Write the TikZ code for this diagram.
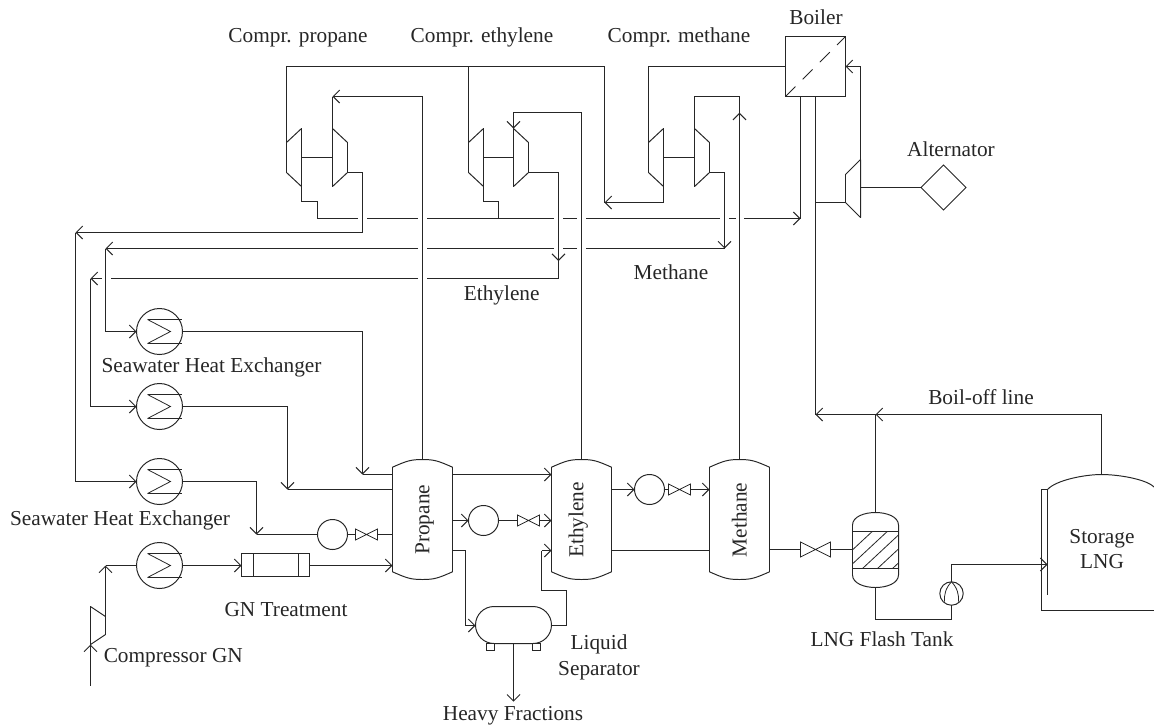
\documentclass[tikz,border=0pt]{standalone}
\usepackage{fontspec}
\setmainfont{Liberation Serif}
\usetikzlibrary{arrows.meta,calc,shapes.geometric}
\definecolor{ink}{gray}{0.15}
\tikzset{
  arr/.style={-{Straight Barb[length=6.5pt,width=13pt,line width=1pt]}},
  ghost/.style={rectangle,inner sep=0pt,outer sep=0pt},
  circA/.style={circle,draw,inner sep=0pt,outer sep=0pt,minimum size=46pt},
  circB/.style={circle,draw,inner sep=0pt,outer sep=0pt,minimum size=30pt},
  lbl/.style={anchor=base,inner sep=0pt,text=ink,font=\fontsize{21.3}{24}\selectfont},
  thinl/.style={line width=0.8pt}
}
% narrow side west
\newcommand{\compW}[6]{\node[ghost,minimum width=#4pt,minimum height=#6*2pt] (#1) at (#2,#3) {};
  \coordinate (#1-st) at ($(#1.west)+(0,-#5)$); \coordinate (#1-sb) at ($(#1.west)+(0,#5)$);
  \coordinate (#1-wt) at ($(#1.east)+(0,-#6)$); \coordinate (#1-wb) at ($(#1.east)+(0,#6)$);
  \draw[line join=round] (#1-st)--(#1-wt)--(#1-wb)--(#1-sb)--cycle;}
% narrow side east
\newcommand{\compE}[6]{\node[ghost,minimum width=#4pt,minimum height=#6*2pt] (#1) at (#2,#3) {};
  \coordinate (#1-st) at ($(#1.east)+(0,-#5)$); \coordinate (#1-sb) at ($(#1.east)+(0,#5)$);
  \coordinate (#1-wt) at ($(#1.west)+(0,-#6)$); \coordinate (#1-wb) at ($(#1.west)+(0,#6)$);
  \draw[line join=round] (#1-st)--(#1-wt)--(#1-wb)--(#1-sb)--cycle;}
\newcommand{\hxr}[3]{\node[circA] (#1) at (#2,#3) {};
  \draw[thinl] ($(#1.center)+(-12,-12)$) -- ($(#1.center)+(22.6,-12)$);
  \draw[thinl] ($(#1.center)+(-12,12)$) -- ($(#1.center)+(22.6,12)$);
  \draw[thinl] ($(#1.center)+(-12,-12)$) -- ($(#1.center)+(11,0)$) -- ($(#1.center)+(-12,12)$);}
\newcommand{\valv}[5]{\node[ghost,minimum width=#4pt,minimum height=#5pt] (#1) at (#2,#3) {};
  \draw[thinl] (#1.north west)--(#1.south east)--(#1.north east)--(#1.south west)--cycle;}
\newcommand{\tankv}[2]{\node[ghost,minimum width=60pt,minimum height=120pt] (#1) at (#2,519.5) {};
  \draw ($(#1.north west)+(0,7.7)$) .. controls ($(#1.north west)+(14,1.5)$) and ($(#1.north)+(-12,0)$) .. (#1.north)
     .. controls ($(#1.north)+(12,0)$) and ($(#1.north east)+(-14,1.5)$) .. ($(#1.north east)+(0,7.7)$)
     -- ($(#1.south east)+(0,-7.7)$)
     .. controls ($(#1.south east)+(-14,-1.5)$) and ($(#1.south)+(12,0)$) .. (#1.south)
     .. controls ($(#1.south)+(-12,0)$) and ($(#1.south west)+(14,-1.5)$) .. ($(#1.south west)+(0,-7.7)$) -- cycle;}
\begin{document}
\begin{tikzpicture}[x=1pt,y=-1pt,line width=0.98pt,color=ink]
\useasboundingbox (0,0) rectangle (1154,724);
% row and junction coordinates
\coordinate (r97) at (0,96.5); \coordinate (r112) at (0,112.5); \coordinate (r550) at (0,550.5);
\coordinate (k1) at (317.5,201.5); \coordinate (k1b) at (498.5,201.5);
\coordinate (k2) at (362.5,232.5); \coordinate (j7) at (75.5,232.5);
\coordinate (j604) at (604.5,202.5); \coordinate (a800) at (800.5,218.5);
\coordinate (j8) at (105.5,248.5); \coordinate (j9) at (90.5,278.5);
\coordinate (j10) at (724.5,248.5); \coordinate (j11) at (558.5,261); \coordinate (j12) at (558.5,278.5);
\coordinate (j13) at (739.5,112.7);
\coordinate (j1) at (362.5,474.5); \coordinate (j2) at (287.5,489.5); \coordinate (j3) at (256.5,534.5);
\coordinate (j5) at (465.5,625.5); \coordinate (j6) at (105.5,565.5);
\coordinate (s1) at (566.5,590.5); \coordinate (s2) at (541.5,550.5);
\coordinate (hf) at (513.5,701.7); \coordinate (gin) at (90.5,685.7);
\coordinate (j815) at (815.5,414.5); \coordinate (j876) at (875.5,414.5);
\coordinate (f1) at (951.5,619.5); \coordinate (j15) at (1047.5,564.5); \coordinate (stA) at (1101.5,474.5);
% equipment
\node[ghost,draw,minimum width=60pt,minimum height=60pt] (boiler) at (815.5,66.5) {};
\draw[dash pattern=on 14pt off 10.3pt] (boiler.south west) -- (boiler.north east);
\coordinate (b800) at ($(boiler.south)+(-15,0)$);
\compW{c1L}{294}{157.5}{15}{15}{29}
\compE{c1R}{340}{157.5}{15}{15}{29}
\compW{c2L}{476}{157.5}{15}{15}{29}
\compE{c2R}{521}{157.5}{15}{15}{29}
\compW{c3L}{656}{157.5}{15}{15}{29}
\compE{c3R}{702}{157.5}{15}{15}{29}
\compW{tb}{853}{188.5}{15}{14}{29}
\compE{gc}{98}{625.5}{15}{9}{19}
\node[diamond,draw,inner sep=0pt,outer sep=0pt,minimum width=45pt,minimum height=45pt] (alt) at (943.5,187.5) {};
\hxr{hx1}{159.5}{331.5}
\hxr{hx2}{159.5}{406.5}
\hxr{hx3}{159.5}{481.5}
\hxr{hx4}{159.5}{565.5}
\node[ghost,draw,minimum width=68pt,minimum height=23pt] (gn) at (275.5,565) {};
\draw ($(gn.north west)+(12,0)$) -- ($(gn.south west)+(12,0)$);
\draw ($(gn.north east)+(-11,0)$) -- ($(gn.south east)+(-11,0)$);
\tankv{propane}{422.5}
\tankv{ethylene}{581.5}
\tankv{methane}{739.5}
\node[circB] (pc1) at (332.5,534.5) {};
\valv{v1}{366.5}{534.5}{22}{11}
\node[circB] (pc2) at (483.5,520.5) {};
\valv{v2}{528.5}{520.5}{22}{11}
\node[circB] (pc3) at (649.5,489.5) {};
\valv{v3}{679.5}{489.5}{22}{11}
\valv{v4}{815.5}{549.5}{30}{15}
\node[ghost,draw,rounded corners=18.5pt,minimum width=76pt,minimum height=37pt] (sep) at (513.5,625) {};
\draw (486.5,643.5) rectangle (494.5,650.5) (532.5,643.5) rectangle (540.5,650.5);
% flash tank
\node[ghost,minimum width=46pt,minimum height=75pt] (ft) at (875.5,550) {};
\draw ($(ft.north west)+(0,12.7)$) .. controls ($(ft.north west)+(0,4)$) and ($(ft.north)+(-11,0)$) .. (ft.north)
   .. controls ($(ft.north)+(11,0)$) and ($(ft.north east)+(0,4)$) .. ($(ft.north east)+(0,12.7)$)
   -- ($(ft.south east)+(0,-12.7)$)
   .. controls ($(ft.south east)+(0,-4)$) and ($(ft.south)+(11,0)$) .. (ft.south)
   .. controls ($(ft.south)+(-11,0)$) and ($(ft.south west)+(0,-4)$) .. ($(ft.south west)+(0,-12.7)$) -- cycle;
\node[ghost,minimum width=46pt,minimum height=37pt] (hatch) at (875.5,550) {};
\begin{scope}
  \clip (hatch.north west) rectangle (hatch.south east);
  \foreach \d in {0,15,...,90} \draw[thinl] ($(hatch.south west)+(\d-20,0)$) -- ++(44,-41);
\end{scope}
\draw[line width=1.4pt] (hatch.north west) -- (hatch.north east) (hatch.south west) -- (hatch.south east);
% pump
\node[circle,draw,inner sep=0pt,outer sep=0pt,minimum size=23.4pt] (pump) at (951.5,593.5) {};
\draw[thinl] (pump.north) .. controls (945.5,588) and (944,595) .. (944.5,601.5);
\draw[thinl] (pump.north) .. controls (957.5,588) and (959,595) .. (958.5,601.5);
% storage
\draw (1047.5,489.5) -- (1047.5,595);
\draw (1047.5,489.5) .. controls (1056,480) and (1085,474.5) .. (stA) .. controls (1118,474.5) and (1146,479) .. (1154,487);
\draw (1047.5,489.5) -- (1041.5,489.5) -- (1041.5,610.5) -- (1154,610.5);
% connectors: refrigeration compressors
\draw (c1L.east) -- (c1R.west);
\draw (c2L.east) -- (c2R.west);
\draw (c3L.east) -- (c3R.west);
\draw (tb.east |- alt.west) -- (alt.west);
\draw[arr] (c3L-wb) |- (j604);
\draw (j604) |- (c1L-st |- boiler.west) -- (c1L-st);
\draw (c2L-st) -- (c2L-st |- boiler.west);
\draw (c3L-st) |- (boiler.west);
\draw[arr] (tb-wt) |- (boiler.east);
\draw (tb-sb) -- (tb-sb -| boiler.south);
\draw (boiler.south) -- (j815);
\draw (b800) -- (a800);
\draw (c1L-wb) |- (k1) -- (k1 |- a800);
\draw (c2L-wb) |- (k1b) -- (k1b |- a800);
\draw[arr] (propane.north) |- (c1R-wt |- r97);
\draw (c1R-wt |- r97) -- (c1R-wt);
\draw[arr] (ethylene.north) |- (c2R-wt |- r112) -- (c2R-wt);
\draw[arr] (methane.north) -- (j13);
\draw (j13) |- (c3R-wt |- r97) -- (c3R-wt);
\draw (c1R-sb) -| (k2);
\draw[arr] (k2) -- (j7);
\draw[arr] (j7) |- (hx3.west);
\draw[arr] (c3R-sb) -| (j10);
\draw[arr] (c2R-sb) -| (j11);
\draw (j11) -- (j12);
% broken horizontal mains
\foreach \a/\b in {317.5/358,367/418,427/554,563/577,586/720,729/735.5} \draw (\a,218.5) -- (\b,218.5);
\draw[arr] (744,218.5) -- (a800);
\foreach \a/\b in {724.5/586,577/563,554/427} \draw (\a,248.5) -- (\b,248.5);
\draw[arr] (418,248.5) -- (j8);
\draw[arr] (j8) |- (hx1.west);
\draw (j12) -- (427,278.5);
\draw (418,278.5) -- (110.5,278.5);
\draw[arr] (101.5,278.5) -- (j9);
\draw[arr] (j9) |- (hx2.west);
% heat exchangers to tanks
\draw[arr] (hx1.east) -| (j1);
\draw (j1) -- (propane.west |- j1);
\draw[arr] (hx2.east) -| (j2);
\draw (j2) -- (propane.west |- j2);
\draw[arr] (hx3.east) -| (j3);
\draw (j3) -- (pc1.west);
\draw (pc1.east) -- (v1.west);
\draw (v1.east) -- (propane.west |- v1.east);
\draw[arr] (gin) -- (gc-wb);
\draw[arr] (gc-st) -- (j6);
\draw (j6) -- (hx4.west);
\draw[arr] (hx4.east) -- (gn.west |- hx4.east);
\draw[arr] (gn.east |- hx4.east) -- (propane.west |- hx4.east);
% tank to tank
\draw[arr] (propane.east |- j1) -- (ethylene.west |- j1);
\draw[arr] (propane.east |- pc2.west) -- (pc2.west);
\draw (pc2.east) -- (v2.west);
\draw[arr] (v2.east) -- (ethylene.west |- v2.east);
\draw[arr] (ethylene.east |- pc3.west) -- (pc3.west);
\draw (pc3.east) -- (v3.west);
\draw[arr] (v3.east) -- (methane.west |- v3.east);
\draw (ethylene.east |- r550) -- (methane.west |- r550);
\draw (methane.east |- v4.west) -- (v4.west);
\draw (v4.east) -- (ft.west |- v4.east);
\draw (propane.east |- r550) -| (j5);
\draw[arr] (j5) -- (sep.west |- j5);
\draw (sep.east |- j5) -| (s1) -| (s2);
\draw[arr] (s2) -- (ethylene.west |- s2);
\draw[arr] (sep.south) -- (hf);
% LNG side
\draw (ft.south) |- (f1) -- (pump.south);
\draw[arr] (pump.north) |- (j15);
\draw (ft.north) -- (j876);
\draw[arr] (stA) |- (j876);
\draw[arr] (j876) -- (j815);
% labels
\node[lbl] (t1) at (298,42.7) {Compr. propane};
\node[lbl] (t2) at (482,42.7) {Compr. ethylene};
\node[lbl] (t3) at (679,42.7) {Compr. methane};
\node[lbl] (t4) at (816,24) {Boiler};
\node[lbl] (t5) at (951,156) {Alternator};
\node[lbl] (t6) at (671,279) {Methane};
\node[lbl] (t7) at (501.7,300) {Ethylene};
\node[lbl] (t8) at (211.5,372.7) {Seawater Heat Exchanger};
\node[lbl] (t9) at (120,525.7) {Seawater Heat Exchanger};
\node[lbl] (t10) at (286,616.7) {GN Treatment};
\node[lbl] (t11) at (173.3,662) {Compressor GN};
\node[lbl] (t12) at (599,649) {Liquid};
\node[lbl] (t13) at (599,675) {Separator};
\node[lbl] (t14) at (513,720) {Heavy Fractions};
\node[lbl] (t15) at (882,646.7) {LNG Flash Tank};
\node[lbl] (t16) at (981,404.3) {Boil-off line};
\node[lbl] (t17) at (1102,543.3) {Storage};
\node[lbl] (t18) at (1102,568.3) {LNG};
\node[lbl,rotate=90] (t19) at (429.3,519.7) {Propane};
\node[lbl,rotate=90] (t20) at (583.3,520) {Ethylene};
\node[lbl,rotate=90] (t21) at (746.7,520) {Methane};
\end{tikzpicture}
\end{document}
